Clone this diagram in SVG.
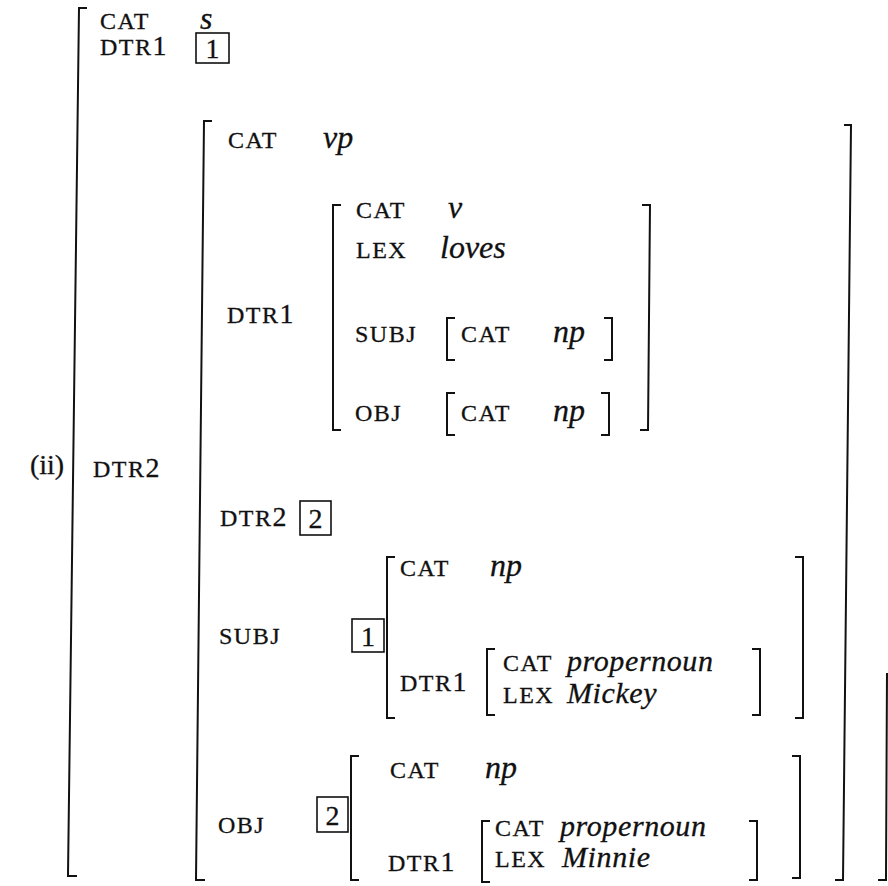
<svg xmlns="http://www.w3.org/2000/svg" width="888" height="886" viewBox="0 0 888 886">
<style>
.f{font-family:"Liberation Serif","Times New Roman",serif;font-size:24px;letter-spacing:1.5px;fill:#111;stroke:#111;stroke-width:0.3}
.d{font-size:28px;letter-spacing:0}
.v{font-family:"Liberation Serif","Times New Roman",serif;font-style:italic;font-size:32px;fill:#111;stroke:#111;stroke-width:0.3}
.w{font-size:30px;letter-spacing:0.6px}
.n{font-family:"Liberation Serif","Times New Roman",serif;font-size:28px;fill:#111;stroke:#111;stroke-width:0.3;text-anchor:middle}
.b{fill:none;stroke:#111;stroke-width:2}
.box{fill:none;stroke:#111;stroke-width:1.6}
</style>
<rect width="888" height="886" fill="#fff"/>
<g id="connectors"></g>
<g id="root">
<path class="b" d="M87,8 H79 L68,876 H77"/>
<path class="b" d="M887,673 L886,880 H878"/>
<text class="n" x="47" y="474">(ii)</text>
<text class="f" x="100" y="29">CAT</text><text class="v" x="200" y="29">s</text>
<text class="f" x="100" y="55">DTR<tspan class="d">1</tspan></text>
<rect class="box" x="196" y="33" width="33" height="30"/><text class="n" x="212.5" y="58">1</text>
<text class="f" x="93" y="477">DTR<tspan class="d">2</tspan></text>
</g>
<g id="dtr2">
<path class="b" d="M212,121 H204 L196,880 H205"/>
<path class="b" d="M844,125 H851 L843,880 H835"/>
<text class="f" x="228" y="148">CAT</text><text class="v" x="323" y="148">vp</text>
<text class="f" x="227" y="323">DTR<tspan class="d">1</tspan></text>
<text class="f" x="220" y="526">DTR<tspan class="d">2</tspan></text>
<rect class="box" x="300" y="501" width="31" height="34"/><text class="n" x="315.5" y="528">2</text>
<text class="f" x="219" y="644">SUBJ</text>
<rect class="box" x="352" y="619" width="32" height="33"/><text class="n" x="368" y="646">1</text>
<text class="f" x="218" y="833">OBJ</text>
<rect class="box" x="317" y="797" width="31" height="35"/><text class="n" x="332.5" y="825">2</text>
</g>
<g id="verb">
<path class="b" d="M341,205 H333 V430 H341"/>
<path class="b" d="M642,205 H650 L648,430 H640"/>
<text class="f" x="356" y="218">CAT</text><text class="v" x="448" y="218">v</text>
<text class="f" x="356" y="258">LEX</text><text class="v" x="440" y="258">loves</text>
<text class="f" x="355" y="342">SUBJ</text>
<text class="f" x="355" y="421">OBJ</text>
</g>
<g id="verb-subj">
<path class="b" d="M455,318 H447 V360 H455"/>
<path class="b" d="M604,318 H612 V360 H604"/>
<text class="f" x="461" y="342">CAT</text><text class="v" x="553" y="342">np</text>
</g>
<g id="verb-obj">
<path class="b" d="M455,393 H447 V435 H455"/>
<path class="b" d="M601,393 H609 V435 H601"/>
<text class="f" x="461" y="421">CAT</text><text class="v" x="553" y="421">np</text>
</g>
<g id="subj-np">
<path class="b" d="M395,557 H387 V718 H395"/>
<path class="b" d="M795,557 H803 V718 H795"/>
<text class="f" x="400" y="576">CAT</text><text class="v" x="490" y="576">np</text>
<text class="f" x="400" y="691">DTR<tspan class="d">1</tspan></text>
</g>
<g id="mickey">
<path class="b" d="M495,649 H487 V715 H495"/>
<path class="b" d="M752,649 H760 V715 H752"/>
<text class="f" x="503" y="671">CAT</text><text class="v w" x="567" y="671">propernoun</text>
<text class="f" x="503" y="703">LEX</text><text class="v w" x="567" y="703">Mickey</text>
</g>
<g id="obj-np">
<path class="b" d="M359,756 H351 V880 H359"/>
<path class="b" d="M792,756 H800 V878 H792"/>
<text class="f" x="390" y="778">CAT</text><text class="v" x="485" y="778">np</text>
<text class="f" x="388" y="871">DTR<tspan class="d">1</tspan></text>
</g>
<g id="minnie">
<path class="b" d="M490,821 H482 V882 H490"/>
<path class="b" d="M749,821 H757 V880 H749"/>
<text class="f" x="495" y="836">CAT</text><text class="v w" x="560" y="836">propernoun</text>
<text class="f" x="495" y="867">LEX</text><text class="v w" x="562" y="867">Minnie</text>
</g>
</svg>
